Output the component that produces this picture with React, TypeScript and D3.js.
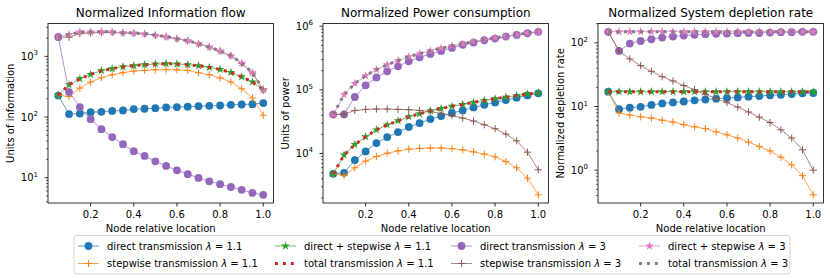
import React from 'react';
import * as d3 from 'd3';

const X = [0.05, 0.1, 0.15, 0.2, 0.25, 0.3, 0.35, 0.4, 0.45, 0.5, 0.55, 0.6, 0.65, 0.7, 0.75, 0.8, 0.85, 0.9, 0.95, 1.0];

const X_TICKS = [0.2, 0.4, 0.6, 0.8, 1.0];

// Panel 1: information flow
const INFO_DIRECT_11 = [226, 112, 114, 120, 122, 126, 128, 135, 137, 140, 144, 146, 148, 151, 153, 155, 159, 161, 163, 170];
const INFO_STEP_11 = [230, 218, 300, 378, 445, 499, 538, 574, 588, 603, 603, 600, 588, 538, 499, 440, 378, 292, 207, 107];
const INFO_SUM_11 = [230, 340, 427, 505, 581, 627, 676, 702, 729, 748, 757, 752, 729, 702, 658, 609, 544, 461, 378, 282];
const INFO_TOTAL_11 = [230, 340, 427, 505, 581, 627, 676, 702, 729, 748, 757, 752, 729, 702, 658, 609, 544, 461, 378, 282];
const INFO_DIRECT_3 = [2090, 258, 146, 92, 63, 46.6, 35.7, 27.3, 22.8, 18.6, 15.6, 13.2, 11.4, 9.9, 8.7, 7.8, 7.0, 6.3, 5.6, 5.2];
const INFO_STEP_3 = [2090, 2080, 2380, 2440, 2500, 2480, 2430, 2400, 2350, 2230, 2095, 1950, 1805, 1610, 1420, 1220, 1020, 770, 532, 277];
const INFO_SUM_3 = [2090, 2310, 2530, 2530, 2560, 2530, 2465, 2430, 2370, 2250, 2110, 1960, 1815, 1620, 1430, 1227, 1026, 776, 538, 282];
const INFO_TOTAL_3 = [2090, 2310, 2530, 2530, 2560, 2530, 2465, 2430, 2370, 2250, 2110, 1960, 1815, 1620, 1430, 1227, 1026, 776, 538, 282];

// Panel 2: power consumption
const POWER_DIRECT_11 = [4790, 4960, 7870, 10770, 14600, 18100, 21700, 26100, 30100, 34800, 38800, 43300, 47600, 53000, 58400, 63500, 69300, 75400, 81900, 88100];
const POWER_STEP_11 = [4790, 4510, 5960, 7590, 8970, 10100, 11000, 11700, 12000, 12200, 12200, 11900, 11400, 10600, 9780, 8870, 7480, 5960, 4100, 2240];
const POWER_SUM_11 = [4790, 9470, 13830, 18360, 23570, 28200, 32700, 37800, 42100, 47000, 51000, 55200, 59000, 63600, 68200, 72400, 76800, 81400, 86000, 90300];
const POWER_TOTAL_11 = [4790, 9470, 13830, 18360, 23570, 28200, 32700, 37800, 42100, 47000, 51000, 55200, 59000, 63600, 68200, 72400, 76800, 81400, 86000, 90300];
const POWER_DIRECT_3 = [41100, 41100, 77300, 117800, 157000, 195500, 234400, 281000, 325000, 367000, 410000, 457000, 510000, 553000, 602000, 640000, 688000, 731000, 776000, 817000];
const POWER_STEP_3 = [41100, 41500, 47500, 49300, 50000, 50000, 49300, 48800, 47500, 45400, 42700, 39300, 36100, 32400, 28300, 24500, 20200, 15800, 10500, 5540];
const POWER_SUM_3 = [41100, 84000, 126000, 167000, 208000, 249000, 288000, 333000, 372000, 414000, 451000, 491000, 528000, 574000, 617000, 656000, 697000, 740000, 787000, 822000];
const POWER_TOTAL_3 = [41100, 84000, 126000, 167000, 208000, 249000, 288000, 333000, 372000, 414000, 451000, 491000, 528000, 574000, 617000, 656000, 697000, 740000, 787000, 822000];

// Panel 3: system depletion rate
const DEPL_DIRECT_11 = [17.1, 9.1, 9.6, 9.9, 10.6, 11.2, 11.6, 12.0, 12.5, 12.9, 13.3, 13.6, 13.9, 14.3, 14.6, 15.0, 15.3, 15.7, 16.1, 16.3];
const DEPL_STEP_11 = [17.1, 7.9, 7.35, 6.9, 6.6, 6.1, 5.7, 5.2, 4.8, 4.5, 4.0, 3.6, 3.2, 2.76, 2.36, 2.0, 1.6, 1.21, 0.82, 0.41];
const DEPL_SUM_11 = [17.1, 17.1, 17.1, 17.1, 17.1, 17.1, 17.1, 17.1, 17.1, 17.1, 17.1, 17.1, 17.1, 17.1, 17.1, 17.1, 17.1, 17.1, 17.1, 17.1];
const DEPL_TOTAL_11 = [17.1, 17.1, 17.1, 17.1, 17.1, 17.1, 17.1, 17.1, 17.1, 17.1, 17.1, 17.1, 17.1, 17.1, 17.1, 17.1, 17.1, 17.1, 17.1, 17.1];
const DEPL_DIRECT_3 = [149, 74.8, 97.5, 107, 114, 121, 126, 130, 134, 137, 139, 140, 142, 143, 143, 145, 147, 147, 149, 149];
const DEPL_STEP_3 = [149, 75, 56, 43.9, 35.7, 29.4, 25.2, 21.3, 18.4, 15.5, 13.4, 11.5, 9.8, 8.2, 6.8, 5.6, 4.3, 3.2, 2.09, 1.0];
const DEPL_SUM_3 = [150, 150, 150, 150, 150, 150, 150, 150, 150, 150, 150, 150, 150, 150, 150, 150, 150, 150, 150, 150];
const DEPL_TOTAL_3 = [150, 150, 150, 150, 150, 150, 150, 150, 150, 150, 150, 150, 150, 150, 150, 150, 150, 150, 150, 150];

const TITLES = ['Normalized Information flow', 'Normalized Power consumption', 'Normalized System depletion rate'];
const Y_LABELS = ['Units of information', 'Units of power', 'Normalized depletion rate'];
const X_LABEL = 'Node relative location';

const SERIES_NAMES = ['direct transmission', 'stepwise transmission', 'direct + stepwise', 'total transmission'];
const LAMBDAS = ['1.1', '1.1', '1.1', '1.1', '3', '3', '3', '3'];

const PANEL_SERIES = [
  [INFO_DIRECT_11, INFO_STEP_11, INFO_SUM_11, INFO_TOTAL_11, INFO_DIRECT_3, INFO_STEP_3, INFO_SUM_3, INFO_TOTAL_3],
  [POWER_DIRECT_11, POWER_STEP_11, POWER_SUM_11, POWER_TOTAL_11, POWER_DIRECT_3, POWER_STEP_3, POWER_SUM_3, POWER_TOTAL_3],
  [DEPL_DIRECT_11, DEPL_STEP_11, DEPL_SUM_11, DEPL_TOTAL_11, DEPL_DIRECT_3, DEPL_STEP_3, DEPL_SUM_3, DEPL_TOTAL_3],
];

type MarkerKind = 'circle' | 'plus' | 'star' | 'none';
const STYLES: { color: string; marker: MarkerKind; dotted: boolean }[] = [
  { color: '#1f77b4', marker: 'circle', dotted: false },
  { color: '#ff7f0e', marker: 'plus', dotted: false },
  { color: '#2ca02c', marker: 'star', dotted: false },
  { color: '#d62728', marker: 'none', dotted: true },
  { color: '#9467bd', marker: 'circle', dotted: false },
  { color: '#8c564b', marker: 'plus', dotted: false },
  { color: '#e377c2', marker: 'star', dotted: false },
  { color: '#7f7f7f', marker: 'none', dotted: true },
];

const FONT = 'DejaVu Sans, Verdana, sans-serif';
const W = 830;
const H = 278;
const PANEL_LEFTS = [48, 323, 598];
const PW = 225.5;
const TOP = 23.5;
const PH = 179.5;
const FS = 10;

const starPath = d3.symbol().type(d3.symbolStar).size(24)() as string;

function Marker({ kind, x, y, color }: { kind: MarkerKind; x: number; y: number; color: string }) {
  if (kind === 'circle') return <circle cx={x} cy={y} r={3.9} fill={color} />;
  if (kind === 'plus')
    return (
      <path
        d={`M${x - 3.6},${y}H${x + 3.6}M${x},${y - 3.6}V${y + 3.6}`}
        stroke={color}
        strokeWidth={1}
        fill="none"
      />
    );
  if (kind === 'star') return <path d={starPath} transform={`translate(${x},${y})`} fill={color} />;
  return null;
}

function Panel({ idx }: { idx: number }) {
  const left = PANEL_LEFTS[idx];
  const series = PANEL_SERIES[idx];
  const all = series.flat();
  const lmin = Math.log10(d3.min(all) as number);
  const lmax = Math.log10(d3.max(all) as number);
  const m = (lmax - lmin) * 0.05;
  const yDomain = [Math.pow(10, lmin - m), Math.pow(10, lmax + m)];
  const xMin = d3.min(X) as number;
  const xMax = d3.max(X) as number;
  const xm = (xMax - xMin) * 0.05;
  const x = d3.scaleLinear().domain([xMin - xm, xMax + xm]).range([left, left + PW]);
  const y = d3.scaleLog().domain(yDomain).range([TOP + PH, TOP]);

  const majors: number[] = [];
  const minors: number[] = [];
  for (let k = Math.floor(lmin - m) - 1; k <= Math.ceil(lmax + m) + 1; k++) {
    const v = Math.pow(10, k);
    if (v >= yDomain[0] && v <= yDomain[1]) majors.push(k);
    for (let j = 2; j <= 9; j++) {
      const mv = j * v;
      if (mv >= yDomain[0] && mv <= yDomain[1]) minors.push(mv);
    }
  }

  const line = d3
    .line<number>()
    .x((_, i) => x(X[i]))
    .y((d) => y(d));

  const bottom = TOP + PH;
  return (
    <g>
      <rect x={left} y={TOP} width={PW} height={PH} fill="white" />
      {series.map((vals, si) => {
        const st = STYLES[si];
        return (
          <g key={si}>
            {st.dotted ? (
              <path d={line(vals) as string} fill="none" stroke={st.color} strokeWidth={3} strokeDasharray="3 4.9" />
            ) : (
              <path d={line(vals) as string} fill="none" stroke={st.color} strokeWidth={0.9} strokeOpacity={0.8} />
            )}
            {vals.map((v, i) => (
              <Marker key={i} kind={st.marker} x={x(X[i])} y={y(v)} color={st.color} />
            ))}
          </g>
        );
      })}
      {/* spines */}
      <rect x={left} y={TOP} width={PW} height={PH} fill="none" stroke="#000" strokeWidth={0.8} />
      {/* x ticks */}
      {X_TICKS.map((t) => (
        <g key={t}>
          <line x1={x(t)} x2={x(t)} y1={bottom} y2={bottom + 3.5} stroke="#000" strokeWidth={0.8} />
          <text x={x(t)} y={bottom + 15} textAnchor="middle" fontSize={FS} fontFamily={FONT} fill="#000">
            {t.toFixed(1)}
          </text>
        </g>
      ))}
      {/* y ticks */}
      {minors.map((v, i) => (
        <line key={'m' + i} x1={left - 2} x2={left} y1={y(v)} y2={y(v)} stroke="#000" strokeWidth={0.6} />
      ))}
      {majors.map((k) => (
        <g key={'M' + k}>
          <line x1={left - 3.5} x2={left} y1={y(Math.pow(10, k))} y2={y(Math.pow(10, k))} stroke="#000" strokeWidth={0.8} />
          <text
            x={left - 10}
            y={y(Math.pow(10, k)) + 3.6}
            textAnchor="end"
            fontSize={FS}
            fontFamily={FONT}
            fill="#000"
          >
            <tspan>10</tspan>
            <tspan dy={-4.6} fontSize={7}>
              {k}
            </tspan>
          </text>
        </g>
      ))}
      <text x={left + PW / 2} y={17} textAnchor="middle" fontSize={12} fontFamily={FONT} fill="#000">
        {TITLES[idx]}
      </text>
      <text x={left + PW / 2} y={232} textAnchor="middle" fontSize={FS} fontFamily={FONT} fill="#000">
        {X_LABEL}
      </text>
      <text
        transform={`translate(${left - 34.5},${TOP + PH / 2}) rotate(-90)`}
        textAnchor="middle"
        fontSize={FS}
        fontFamily={FONT}
        fill="#000"
      >
        {Y_LABELS[idx]}
      </text>
    </g>
  );
}

const LEG_TEXT_X = [107, 304, 480, 668];
const LEG_ROW_Y = [246, 263.5];

function Legend() {
  return (
    <g>
      <rect x={74} y={235.5} width={716} height={38.5} rx={2.5} fill="white" fillOpacity={0.8} stroke="#cccccc" strokeWidth={0.8} />
      {STYLES.map((st, i) => {
        const col = Math.floor(i / 2);
        const row = i % 2;
        const tx = LEG_TEXT_X[col];
        const cy = LEG_ROW_Y[row];
        const x1 = tx - 29;
        const x2 = tx - 8;
        const name = SERIES_NAMES[i % 4];
        return (
          <g key={i}>
            {st.dotted ? (
              <line x1={x1} x2={x2} y1={cy} y2={cy} stroke={st.color} strokeWidth={3} strokeDasharray="3 4.9" />
            ) : (
              <line x1={x1} x2={x2} y1={cy} y2={cy} stroke={st.color} strokeWidth={0.9} strokeOpacity={0.8} />
            )}
            <Marker kind={st.marker} x={(x1 + x2) / 2} y={cy} color={st.color} />
            <text x={tx} y={cy + 3.6} fontSize={FS} fontFamily={FONT} fill="#000">
              <tspan>{name + ' '}</tspan>
              <tspan fontStyle="italic">λ</tspan>
              <tspan>{' = ' + LAMBDAS[i]}</tspan>
            </text>
          </g>
        );
      })}
    </g>
  );
}

export default function App() {
  return (
    <svg
      width={W}
      height={H}
      viewBox={`0 0 ${W} ${H}`}
      style={{ position: 'absolute', left: 0, top: 0, background: 'white' }}
    >
      <rect x={0} y={0} width={W} height={H} fill="white" />
      {[0, 1, 2].map((i) => (
        <Panel key={i} idx={i} />
      ))}
      <Legend />
    </svg>
  );
}
